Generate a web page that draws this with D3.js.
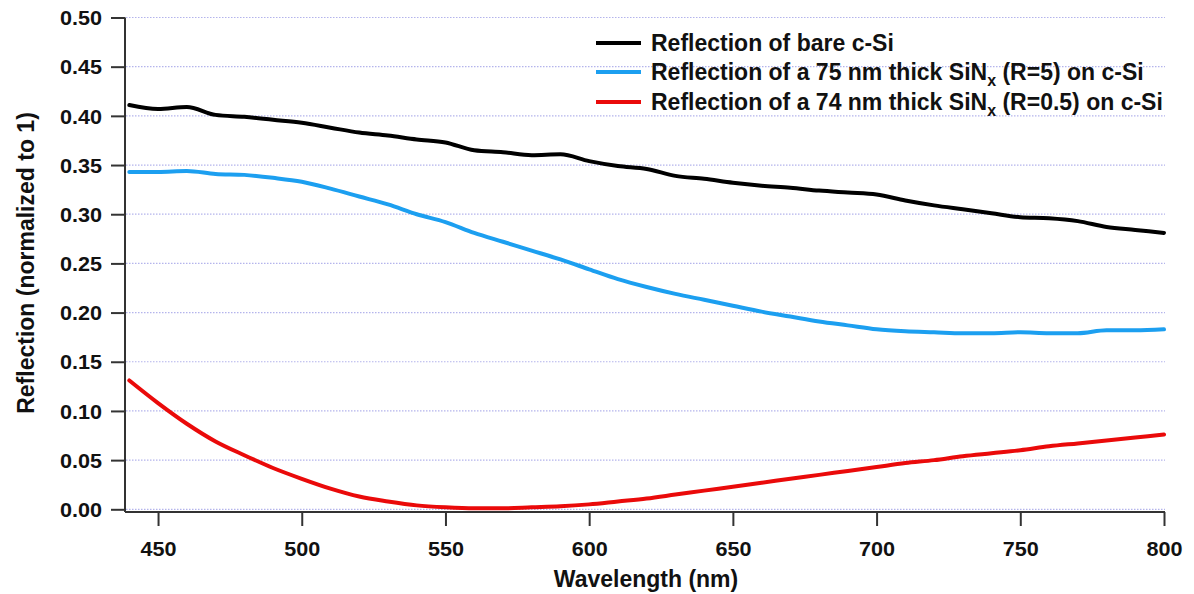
<!DOCTYPE html>
<html>
<head>
<meta charset="utf-8">
<script src="https://cdn.jsdelivr.net/npm/d3@7"></script>
<style>
  html, body { margin: 0; padding: 0; background: #fff; }
  svg { display: block; font-family: "Liberation Sans", Arial, sans-serif; }
</style>
</head>
<body>
<svg id="chart" width="1194" height="594"></svg>
<script>
const wavelengths = [440,450,460,470,480,490,500,510,520,530,540,550,560,570,580,590,600,610,620,630,640,650,660,670,680,690,700,710,720,730,740,750,760,770,780,790,800];
const bareSi = [0.411,0.407,0.409,0.401,0.399,0.396,0.393,0.388,0.383,0.380,0.376,0.373,0.365,0.363,0.360,0.361,0.354,0.349,0.346,0.339,0.336,0.332,0.329,0.327,0.324,0.322,0.320,0.314,0.309,0.305,0.301,0.297,0.296,0.293,0.287,0.284,0.281];
const sin75 = [0.343,0.343,0.344,0.341,0.340,0.337,0.333,0.326,0.318,0.310,0.300,0.292,0.281,0.272,0.263,0.254,0.244,0.234,0.226,0.219,0.213,0.207,0.201,0.196,0.191,0.187,0.183,0.181,0.180,0.179,0.179,0.180,0.179,0.179,0.182,0.182,0.183];
const sin74 = [0.131,0.108,0.087,0.069,0.055,0.042,0.031,0.021,0.013,0.008,0.004,0.002,0.001,0.001,0.002,0.003,0.005,0.008,0.011,0.015,0.019,0.023,0.027,0.031,0.035,0.039,0.043,0.047,0.050,0.054,0.057,0.060,0.064,0.067,0.070,0.073,0.076];
const xTicks = [450,500,550,600,650,700,750,800];
const yTicks = [0,0.05,0.10,0.15,0.20,0.25,0.30,0.35,0.40,0.45,0.50];
const seriesColors = ["#000000", "#1c9ff0", "#ea0a0a"];

const svg = d3.select("#chart");
const x = d3.scaleLinear().domain([440, 800]).range([129.3, 1164]);
const y = d3.scaleLinear().domain([0, 0.5]).range([509.3, 17.5]);
const axisX0 = 125, axisY0 = 512;
const sx = 1.08;

// gridlines
svg.append("g").selectAll("line").data(yTicks).join("line")
  .attr("x1", axisX0 + 1).attr("x2", 1165)
  .attr("y1", d => y(d)).attr("y2", d => y(d))
  .attr("stroke", "#b4b4ec").attr("stroke-width", 1.2)
  .attr("stroke-dasharray", "1.5,1.5");

// y axis
const yAxis = d3.axisLeft(y).tickValues(yTicks).tickFormat(d3.format(".2f")).tickSize(14).tickSizeOuter(0);
const gy = svg.append("g").attr("transform", `translate(${axisX0},0)`).call(yAxis);
gy.select(".domain").attr("d", `M0,${y(0.5)}V${axisY0}`);
// x axis
const xAxis = d3.axisBottom(x).tickValues(xTicks).tickFormat(d3.format("d")).tickSize(14).tickSizeOuter(0);
const gx = svg.append("g").attr("transform", `translate(0,${axisY0})`).call(xAxis);
gx.select(".domain").attr("d", `M${axisX0},0H1165`);

[gx, gy].forEach(g => {
  g.select(".domain").attr("stroke", "#333").attr("stroke-width", 2);
  g.selectAll(".tick line").attr("stroke", "#333").attr("stroke-width", 2);
  g.selectAll(".tick text").attr("fill", "#111").attr("font-size", 20)
    .attr("font-weight", "bold").attr("font-family", "'Liberation Sans', Arial, sans-serif")
    .attr("transform", `scale(${sx},1)`);
});
gy.selectAll(".tick text").attr("x", -23 / sx).attr("dy", "0.36em");
gx.selectAll(".tick text").attr("x", 0).attr("y", 44).attr("dy", 0);

// data lines
const seriesData = [bareSi, sin75, sin74];
const line = d3.line().x(d => x(d[0])).y(d => y(d[1])).curve(d3.curveMonotoneX);
seriesData.forEach((vals, i) => {
  svg.append("path")
    .datum(wavelengths.map((w, j) => [w, vals[j]]))
    .attr("fill", "none").attr("stroke", seriesColors[i])
    .attr("stroke-width", 4).attr("stroke-linejoin", "round").attr("stroke-linecap", "round")
    .attr("d", line);
});

// axis titles
svg.append("text").attr("x", 646).attr("y", 587).attr("text-anchor", "middle")
  .attr("font-size", 23).attr("font-weight", "bold").attr("fill", "#111")
  .text("Wavelength (nm)");
svg.append("text").attr("transform", "translate(34,263) rotate(-90)").attr("text-anchor", "middle")
  .attr("font-size", 23).attr("font-weight", "bold").attr("fill", "#111")
  .text("Reflection (normalized to 1)");

// legend
const legendRows = [43, 72, 102];
const lg = svg.append("g");
legendRows.forEach((ly, i) => {
  lg.append("line").attr("x1", 596).attr("x2", 641).attr("y1", ly).attr("y2", ly)
    .attr("stroke", seriesColors[i]).attr("stroke-width", 4);
});
function legendText(ly, parts) {
  const t = lg.append("text").attr("x", 651).attr("y", ly + 8)
    .attr("font-size", 23).attr("font-weight", "bold").attr("fill", "#111");
  parts.forEach(p => {
    const ts = t.append("tspan").text(p.t);
    if (p.sub) { ts.attr("font-size", 16).attr("dy", 6); }
    else if (p.after) { ts.attr("dy", -6); }
  });
}
legendText(legendRows[0], [{t: "Reflection of bare c-Si"}]);
legendText(legendRows[1], [{t: "Reflection of a 75 nm thick SiN"}, {t: "x", sub: true}, {t: " (R=5) on c-Si", after: true}]);
legendText(legendRows[2], [{t: "Reflection of a 74 nm thick SiN"}, {t: "x", sub: true}, {t: " (R=0.5) on c-Si", after: true}]);
</script>
</body>
</html>
